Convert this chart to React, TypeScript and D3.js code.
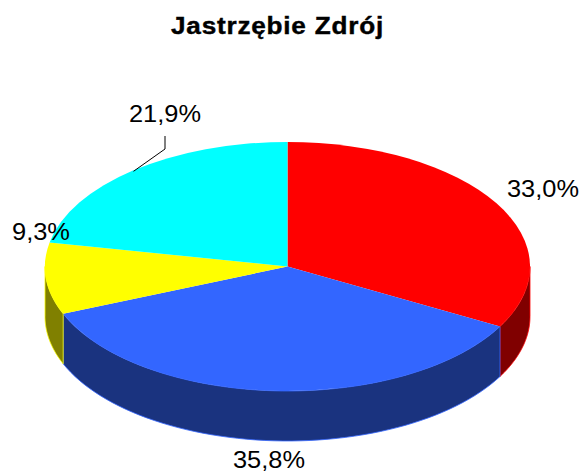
import { useMemo } from "react"
import * as d3 from "d3"

const labels = ["33,0%", "35,8%", "9,3%", "21,9%"]
const values = [33.0, 35.8, 9.3, 21.9]
const topColors = ["#ff0000", "#3366ff", "#ffff00", "#00ffff"]
const sideColors = ["#800000", "#1a337f", "#808000", "#008080"]
const title = "Jastrzębie Zdrój"

const width = 582
const height = 473
const cx = 287.5
const cy = 266.5
const rx = 242.5
const ry = 124.5
const depth = 50

// angle is clockwise from 12 o'clock, same as d3.pie
const px = (a: number) => cx + rx * Math.sin(a)
const py = (a: number) => cy - ry * Math.cos(a)

export default function App() {
  const arcs = useMemo(() => d3.pie<number>().sort(null)(values), [])

  // circular arc, squashed into an ellipse by the group transform
  const topArc = d3.arc<d3.PieArcDatum<number>>().innerRadius(0).outerRadius(rx)

  // the wall is only visible on the front half of the ellipse
  const wall = (d: d3.PieArcDatum<number>) => {
    const a0 = Math.max(d.startAngle, Math.PI / 2)
    const a1 = Math.min(d.endAngle, (3 * Math.PI) / 2)
    if (a1 <= a0) return null
    const steps = d3.range(0, 61).map((i) => a0 + ((a1 - a0) * i) / 60)
    const front = steps.map((a) => [px(a), py(a)] as [number, number])
    const back = [...steps].reverse().map((a) => [px(a), py(a) + depth] as [number, number])
    return d3.line()([...front, ...back]) + "Z"
  }

  const cyanMid = (arcs[3].startAngle + arcs[3].endAngle) / 2
  const leader = d3.line()([
    [px(cyanMid), py(cyanMid) + 1],
    [165, 149],
    [165, 136],
  ])

  return (
    <svg
      width={width}
      height={height}
      style={{ position: "absolute", left: 0, top: 0, fontFamily: "'Liberation Sans', Arial, sans-serif" }}
    >
      <rect width={width} height={height} fill="#ffffff" />
      <text
        x={171}
        y={34}
        fontSize={23}
        fontWeight="bold"
        fill="#000"
        stroke="#000"
        strokeWidth={0.4}
        letterSpacing={0.7}
        textLength={213}
        lengthAdjust="spacingAndGlyphs"
      >
        {title}
      </text>

      {arcs.map((d, i) => {
        const p = wall(d)
        return p ? <path key={i} d={p} fill={sideColors[i]} stroke={topColors[i]} strokeWidth={0.8} /> : null
      })}

      <g transform={`translate(${cx},${cy}) scale(1,${ry / rx})`}>
        {arcs.map((d, i) => (
          <path key={i} d={topArc(d) as string} fill={topColors[i]} />
        ))}
      </g>

      <path d={leader as string} fill="none" stroke="#000" strokeWidth={1} />

      <g fontSize={23.5} fill="#000">
        <text x={507} y={197} textLength={72} lengthAdjust="spacingAndGlyphs">{labels[0]}</text>
        <text x={233} y={468} textLength={72} lengthAdjust="spacingAndGlyphs">{labels[1]}</text>
        <text x={12} y={240} textLength={58} lengthAdjust="spacingAndGlyphs">{labels[2]}</text>
        <text x={129} y={122} textLength={72} lengthAdjust="spacingAndGlyphs">{labels[3]}</text>
      </g>
    </svg>
  )
}
